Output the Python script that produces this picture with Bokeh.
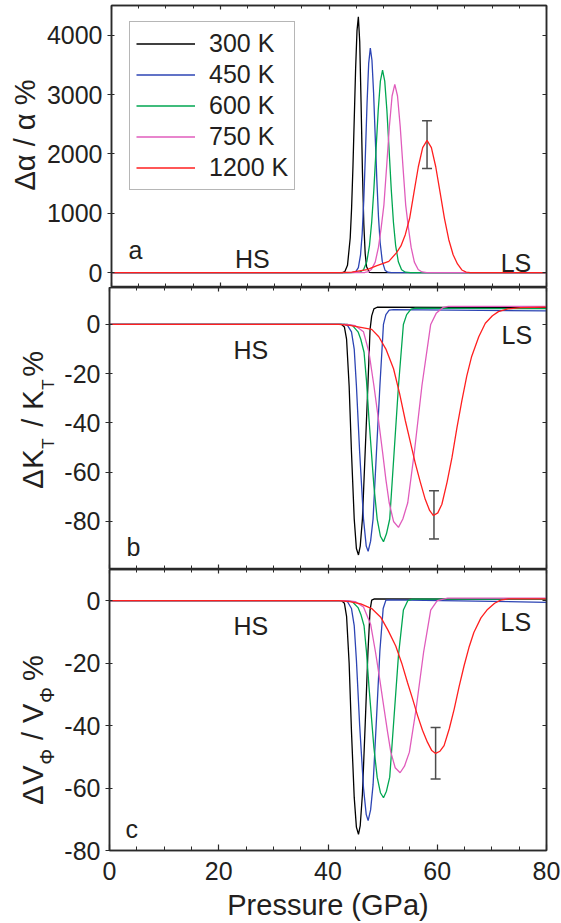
import math
from bokeh.plotting import figure
from bokeh.layouts import column, row
from bokeh.models import (Range1d, LinearAxis, SingleIntervalTicker, Label, Legend,
                          LegendItem, ColumnDataSource, Whisker, TeeHead, CustomJSTickFormatter)
from bokeh.embed import file_html
from bokeh.resources import INLINE

# ---------------- data ----------------
temps = ["300 K", "450 K", "600 K", "750 K", "1200 K"]

# panel a : delta alpha / alpha (%)
a300_p = [0, 42.5, 42.9, 43.4, 43.9, 44.15, 44.4, 44.65, 44.9, 45.15, 45.4, 45.65, 45.9, 46.15, 46.4, 46.65, 46.9, 47.4, 48.0, 80]
a300_v = [0, 0, 17, 123, 583, 1075, 1772, 2614, 3452, 4077, 4310, 3888, 2850, 1702, 825, 326, 105, 6, 0, 0]
a450_p = [0, 43.5, 44.4, 44.9, 45.4, 45.8, 46.1, 46.4, 46.7, 47.0, 47.3, 47.6, 47.9, 48.2, 48.5, 48.8, 49.1, 49.4, 49.8, 50.3, 50.8, 51.5, 80]
a450_v = [0, 0, 5, 13, 86, 301, 652, 1229, 2009, 2856, 3526, 3783, 3578, 3030, 2295, 1555, 943, 512, 190, 42, 7, 0, 0]
a600_p = [0, 44.0, 45.65, 46.35, 46.95, 47.45, 47.85, 48.25, 48.65, 49.05, 49.45, 49.85, 50.25, 50.65, 51.05, 51.45, 51.85, 52.25, 52.75, 53.35, 54.05, 55.0, 80]
a600_v = [0, 0, 8, 48, 184, 461, 850, 1402, 2070, 2731, 3226, 3410, 3226, 2731, 2070, 1402, 850, 461, 184, 48, 8, 0, 0]
a750_p = [0, 44.5, 46.6, 47.1, 47.8, 48.5, 49.1, 49.6, 50.1, 50.6, 51.1, 51.6, 52.1, 52.6, 53.1, 53.6, 54.1, 54.6, 55.1, 55.7, 56.4, 57.1, 58.0, 80]
a750_v = [0, 0, 3, 12, 52, 178, 429, 760, 1143, 1787, 2458, 2976, 3172, 2976, 2458, 1787, 1143, 760, 429, 178, 52, 12, 0, 0]
a1200_p = [0, 42.0, 44.2, 47.0, 48.7, 51.0, 52.43, 53.23, 54.03, 54.83, 55.63, 56.43, 57.23, 58.03, 58.83, 59.63, 60.43, 61.23, 62.03, 62.83, 63.63, 64.43, 65.23, 66.0, 80]
a1200_v = [0, 0, 10, 50, 115, 190, 337, 450, 640, 916, 1351, 1784, 2107, 2227, 2107, 1784, 1351, 916, 555, 301, 147, 45, 10, 0, 0]
a_err = dict(p=[58.03], lo=[1755], hi=[2560])

# panel b : delta K_T / K_T (%)
b300_p = [0, 42.5, 43.0, 43.4, 43.87, 44.3, 44.8, 45.2, 45.58, 45.9, 46.3, 46.8, 47.3, 47.7, 48.0, 48.4, 49.0, 80]
b300_v = [0, 0, -1, -6, -25, -52, -79, -91, -93.6, -90, -79, -52, -25, -2, 3.5, 6.3, 7.0, 6.8]
b450_p = [0, 43.0, 43.6, 44.3, 44.8, 45.2, 45.8, 46.5, 47.0, 47.35, 47.8, 48.25, 48.87, 49.5, 50.15, 50.6, 51.2, 52.0, 80]
b450_v = [0, 0, -0.5, -3, -10, -24.8, -52, -79, -90, -92.1, -88, -79, -52, -25, 0, 4, 5.8, 6.0, 5.5]
b600_p = [0, 43.5, 44.5, 45.5, 46.0, 46.6, 47.05, 47.5, 48.4, 49.0, 49.6, 50.16, 50.7, 51.3, 52.1, 52.9, 53.8, 54.4, 55.2, 56.0, 80]
b600_v = [0, 0, -0.5, -3, -6, -11.3, -23, -38.4, -65.5, -79, -86, -88.2, -85, -79, -52, -25, 0, 4, 6.2, 6.6, 6.4]
b750_p = [0, 43.5, 45.0, 46.5, 47.5, 48.4, 49.2, 50.0, 50.6, 51.2, 52.0, 52.9, 53.7, 54.6, 55.8, 57.2, 58.8, 59.8, 61.0, 62.0, 80]
b750_v = [0, 0, -0.5, -3, -11.3, -24.8, -38, -52, -63, -72.4, -80, -82.4, -79, -72.4, -52, -24.8, 0, 4.5, 6.8, 7.3, 7.3]
b1200_p = [0, 42.0, 44.0, 46.0, 48.0, 49.3, 50.6, 52.0, 53.1, 54.15, 55.1, 56.0, 56.9, 57.8, 58.6, 59.3, 60.1, 60.85, 61.8, 62.7, 63.6, 64.5, 65.4, 66.3, 67.6, 68.8, 70.1, 71.2, 72.9, 75.3, 80]
b1200_v = [0, 0, -0.4, -1.2, -2, -5, -10, -18, -28, -39, -48, -56.5, -64, -71, -75.5, -77.6, -76.5, -73, -64, -54, -42, -31, -21, -13, -5, 0.5, 3.5, 5.2, 6.3, 6.8, 7.0]
b_err = dict(p=[59.4], lo=[-87.1], hi=[-67.5])

# panel c : delta V_phi / V_phi (%)
c300_p = [0, 42.5, 43.0, 43.4, 43.87, 44.3, 44.8, 45.2, 45.58, 45.9, 46.3, 46.8, 47.3, 47.7, 48.0, 48.5, 80]
c300_v = [0, 0, -0.8, -5, -20, -42, -63, -72.5, -74.8, -72, -62, -40, -17, -3, 0.2, 0.6, 0.5]
c450_p = [0, 43.0, 43.6, 44.3, 44.8, 45.2, 45.8, 46.5, 47.0, 47.35, 47.8, 48.25, 48.87, 49.5, 50.1, 50.6, 51.5, 80]
c450_v = [0, 0, -0.4, -2.5, -8, -19, -40, -60, -68.5, -70.4, -67, -59, -38, -16, -2.5, 0.2, 0.3, -0.5]
c600_p = [0, 43.5, 44.5, 45.5, 46.0, 46.6, 47.05, 47.5, 48.4, 49.0, 49.6, 50.16, 50.7, 51.3, 52.1, 52.9, 53.8, 54.6, 55.5, 80]
c600_v = [0, 0, -0.4, -2.2, -4.3, -8, -16.5, -27.5, -47, -56.5, -61.5, -63.1, -61, -56.5, -37, -17.5, -3, 0, 0.5, 0.5]
c750_p = [0, 43.5, 45.0, 46.5, 47.8, 48.7, 49.5, 50.3, 50.9, 51.5, 52.3, 53.2, 54.0, 54.9, 56.1, 57.5, 58.8, 60.0, 61.9, 80]
c750_v = [0, 0, -0.3, -2, -7.5, -16.5, -25.5, -35, -42, -48.5, -53.5, -55.1, -53, -48.5, -35, -16.5, -3, 0, 0.8, 0.8]
c1200_p = [0, 42.0, 44.0, 46.0, 48.0, 49.7, 51.0, 52.4, 53.5, 54.55, 55.5, 56.4, 57.3, 58.2, 59.0, 59.7, 60.5, 61.25, 62.2, 63.1, 64.0, 64.9, 65.8, 66.7, 68.0, 69.2, 70.5, 71.6, 73.0, 80]
c1200_v = [0, 0, -0.3, -1, -2.5, -5.4, -9.5, -14.5, -20, -26.2, -31.5, -36.8, -41.5, -45.3, -48, -48.9, -48.2, -46.4, -41, -34.7, -27.5, -20.9, -15, -10.2, -5.5, -2.8, -0.8, 0.2, 0.6, 0.6]
c_err = dict(p=[59.7], lo=[-57.1], hi=[-40.6])

x_ticks_step = 20

# ---------------- styling / layout ----------------
FONT = "Liberation Sans"
TXT = "#231f20"
AX = "#2a2a2a"
colors = ["#000000", "#2c44b4", "#00a651", "#e05cbc", "#ff1f1f"]

PAGE_W = 561
FRAME_LEFT = 109
RIGHT = 15
FRAME_H = 282
XMIN, XMAX = 0, 80
FRAME_W = PAGE_W - FRAME_LEFT - RIGHT
PX_PER_X = FRAME_W / (XMAX - XMIN)
BASE_FIX = 0.36   # Bokeh draws "alphabetic" text this many em below its anchor

xr = Range1d(XMIN, XMAX)

hyphen_fmt = CustomJSTickFormatter(code="return String(Math.round(tick));")
blank_fmt = CustomJSTickFormatter(code="return '';")


def style_axis(ax, tick_in, tick_out, minor_in, labels=True):
    ax.axis_line_color = AX
    ax.axis_line_width = 1.5
    ax.major_tick_line_color = AX
    ax.minor_tick_line_color = AX
    ax.major_tick_line_width = 1.2
    ax.minor_tick_line_width = 1.0
    ax.major_tick_in = tick_in
    ax.major_tick_out = tick_out
    ax.minor_tick_in = minor_in
    ax.minor_tick_out = 0
    if labels:
        ax.formatter = hyphen_fmt
        ax.major_label_text_font = FONT
        ax.major_label_text_font_size = "25px"
        ax.major_label_text_color = TXT
    else:
        ax.formatter = blank_fmt
        ax.major_label_text_font_size = "0px"
        ax.major_label_text_color = None
        ax.major_label_standoff = 0


def make_panel(label_w, yr, ystep, yminor, top, bottom, xlabels):
    left = FRAME_LEFT - label_w
    width = PAGE_W - label_w
    p = figure(width=width, height=FRAME_H + top + bottom, x_range=xr, y_range=Range1d(*yr),
               output_backend="svg", toolbar_location=None,
               min_border_left=left, min_border_right=RIGHT,
               min_border_top=top, min_border_bottom=bottom)
    p.background_fill_color = "white"
    p.border_fill_color = "white"
    p.outline_line_color = AX
    p.outline_line_width = 1.5
    p.xgrid.grid_line_color = None
    p.ygrid.grid_line_color = None

    xt = SingleIntervalTicker(interval=x_ticks_step, num_minor_ticks=4)
    yt = SingleIntervalTicker(interval=ystep, num_minor_ticks=yminor)

    xa = p.xaxis[0]
    xa.ticker = xt
    ya = p.yaxis[0]
    ya.ticker = yt
    style_axis(ya, 0, 4, 3, True)
    ya.major_label_standoff = 5
    if xlabels:
        style_axis(xa, 6, 0, 4, True)
        xa.major_label_standoff = 11
        xa.axis_label = "Pressure (GPa)"
        xa.axis_label_text_font = FONT
        xa.axis_label_text_font_size = "29px"
        xa.axis_label_text_font_style = "normal"
        xa.axis_label_text_color = TXT
        xa.axis_label_standoff = 6
    else:
        style_axis(xa, 5, 0, 4, False)

    ra = LinearAxis(ticker=yt)
    style_axis(ra, 4, 0, 2, False)
    p.add_layout(ra, "right")
    ta = LinearAxis(ticker=xt)
    style_axis(ta, 4, 0, 3, False)
    p.add_layout(ta, "above")
    return p


def label_fig(w, h, frame_bottom, pieces, base_x, sub_base_x, start_page_y):
    """Narrow figure left of a panel holding its rotated y title.
    Its frame lines up with the panel frame; data units are pixels (y up).
    pieces: (text, font px, is_subscript, offset in px from the start of the title)."""
    f = figure(width=w, height=h, x_range=Range1d(0, w), y_range=Range1d(0, FRAME_H),
               output_backend="svg", toolbar_location=None, min_border=0,
               x_axis_location=None, y_axis_location=None)
    f.outline_line_color = None
    f.grid.visible = False
    f.background_fill_color = "white"
    f.border_fill_color = "white"
    y0 = frame_bottom - start_page_y
    for txt, size, sub, off in pieces:
        bx = (sub_base_x if sub else base_x) - BASE_FIX * size
        f.add_layout(Label(x=bx, y=y0 + off, text=txt, text_font=FONT, text_font_size=f"{size}px",
                           text_color=TXT, text_baseline="alphabetic", text_align="left",
                           angle=math.pi / 2))
    return f


def add_text(p, yr, frame_bottom, page_x, page_y, s, size=25):
    """Place a label whose baseline starts at the given page pixel."""
    ppu = FRAME_H / (yr[1] - yr[0])
    x = (page_x - FRAME_LEFT) / PX_PER_X
    y = yr[0] + (frame_bottom - page_y + BASE_FIX * size) / ppu
    p.add_layout(Label(x=x, y=y, text=s, text_font=FONT, text_font_size=f"{size}px",
                       text_color=TXT, text_baseline="alphabetic", text_align="left"))


def add_err(p, e):
    src = ColumnDataSource(e)
    w = Whisker(base="p", lower="lo", upper="hi", source=src, dimension="height",
                line_color="#4d4d4d", line_width=1.5,
                upper_head=TeeHead(size=10, line_color="#4d4d4d", line_width=1.5),
                lower_head=TeeHead(size=10, line_color="#4d4d4d", line_width=1.5))
    p.add_layout(w)


A_BOTTOM = 5 + FRAME_H
B_BOTTOM = A_BOTTOM + FRAME_H
C_BOTTOM = B_BOTTOM + FRAME_H

# ---------------- panel a ----------------
LA_W = 43
HA = FRAME_H + 5
ya_r = (-250, 4500)
pa = make_panel(LA_W, ya_r, 1000, 1, 5, 0, False)
series_a = [(a300_p, a300_v), (a450_p, a450_v), (a600_p, a600_v), (a750_p, a750_v), (a1200_p, a1200_v)]
rends = []
for (xs, ys), c in zip(series_a, colors):
    rends.append(pa.line(xs, ys, line_color=c, line_width=1.3))
add_err(pa, a_err)
legend = Legend(items=[LegendItem(label=t, renderers=[r]) for t, r in zip(temps, rends)],
                location=(18, 97))
legend.label_text_font = FONT
legend.label_text_font_size = "25px"
legend.label_text_color = TXT
legend.label_height = 31
legend.glyph_height = 31
legend.glyph_width = 59
legend.label_standoff = 14
legend.spacing = 0
legend.padding = 6
legend.margin = 0
legend.border_line_color = "#6d6d6d"
legend.border_line_width = 1.5
legend.background_fill_color = "white"
legend.background_fill_alpha = 1
pa.add_layout(legend)
add_text(pa, ya_r, A_BOTTOM, 126, 258, "a")
add_text(pa, ya_r, A_BOTTOM, 233, 267, "HS")
add_text(pa, ya_r, A_BOTTOM, 500, 271, "LS")
la = label_fig(LA_W, HA, A_BOTTOM, [("Δα / α %", 29, False, 0)], 35, 35, 190)

# ---------------- panel b ----------------
LB_W = 60
HB = FRAME_H
yb_r = (-99.5, 15)
pb = make_panel(LB_W, yb_r, 20, 1, 0, 0, False)
series_b = [(b300_p, b300_v), (b450_p, b450_v), (b600_p, b600_v), (b750_p, b750_v), (b1200_p, b1200_v)]
for (xs, ys), c in zip(series_b, colors):
    pb.line(xs, ys, line_color=c, line_width=1.3)
add_err(pb, b_err)
add_text(pb, yb_r, B_BOTTOM, 126, 555, "b")
add_text(pb, yb_r, B_BOTTOM, 233, 358, "HS")
add_text(pb, yb_r, B_BOTTOM, 501, 343, "LS")
lb = label_fig(LB_W, HB, B_BOTTOM,
               [("Δ", 29, False, 0), ("K", 29, False, 20), ("T", 17, True, 40),
                ("/", 29, False, 62), ("K", 29, False, 79), ("T", 17, True, 99),
                ("%", 29, False, 112)],
               43.3, 54, 488.3)

# ---------------- panel c ----------------
LC_W = 60
HC = FRAME_H + 72
yc_r = (-80, 10)
pc = make_panel(LC_W, yc_r, 20, 1, 0, 72, True)
series_c = [(c300_p, c300_v), (c450_p, c450_v), (c600_p, c600_v), (c750_p, c750_v), (c1200_p, c1200_v)]
for (xs, ys), c in zip(series_c, colors):
    pc.line(xs, ys, line_color=c, line_width=1.3)
add_err(pc, c_err)
add_text(pc, yc_r, C_BOTTOM, 125, 838, "c")
add_text(pc, yc_r, C_BOTTOM, 233, 635, "HS")
add_text(pc, yc_r, C_BOTTOM, 500, 630.7, "LS")
lc = label_fig(LC_W, HC, C_BOTTOM,
               [("Δ", 29, False, 0), ("V", 29, False, 20), ("Φ", 20, True, 40),
                ("/", 29, False, 65), ("V", 29, False, 82), ("Φ", 20, True, 102),
                ("%", 29, False, 124)],
               43.3, 54, 805)

layout = column(row(la, pa, spacing=0), row(lb, pb, spacing=0), row(lc, pc, spacing=0), spacing=0)
open("out.html", "w").write(file_html(layout, INLINE))
